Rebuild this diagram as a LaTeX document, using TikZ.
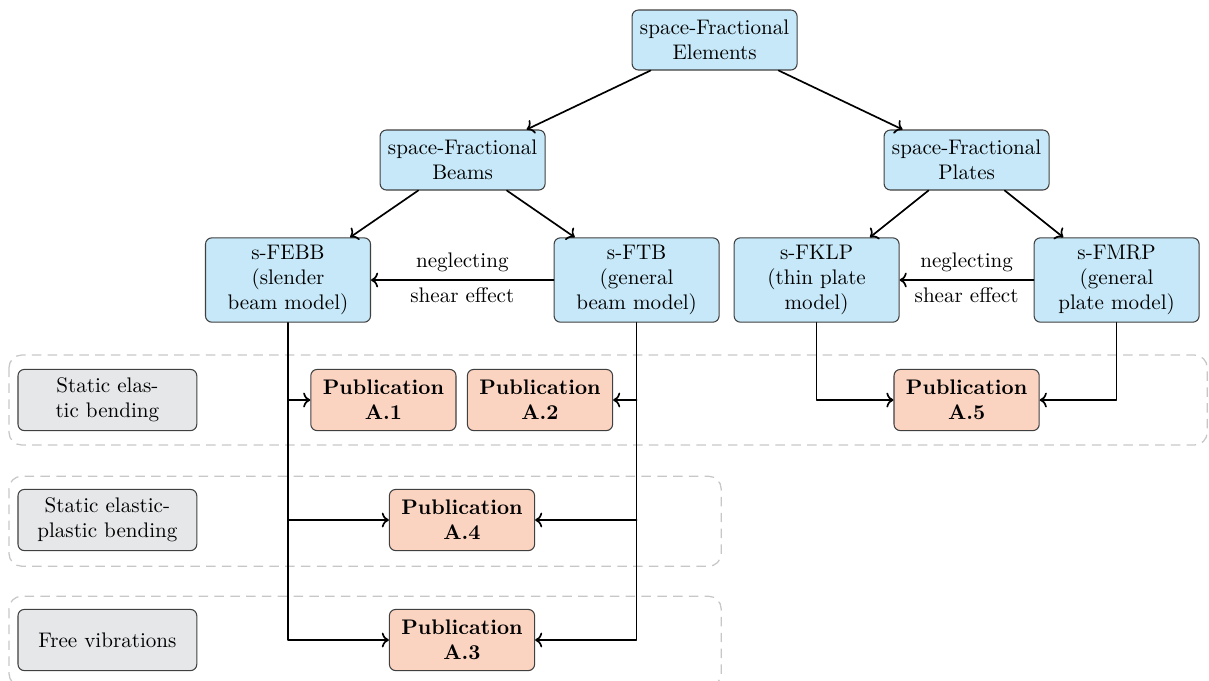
\documentclass[tikz,border=0pt]{standalone}
\usetikzlibrary{positioning}
\usetikzlibrary{arrows.meta}
\definecolor{fracblue}{RGB}{198,232,248}
\definecolor{pubred}{RGB}{251,212,193}
\definecolor{taskgray}{RGB}{230,231,233}
\tikzstyle{every node}=[font=\normalsize]
\tikzstyle{model}=[draw=black!75,fill=fracblue,rounded corners=3pt,align=center,minimum width=2.75cm,minimum height=1cm,line width=0.5pt]
\tikzstyle{pub}=[draw=black!75,fill=pubred,rounded corners=3pt,align=center,minimum width=2.42cm,minimum height=1.02cm,font=\bfseries,line width=0.5pt]
\tikzstyle{task}=[draw=black!75,fill=taskgray,rounded corners=3pt,align=center,minimum width=2.98cm,minimum height=1.02cm,line width=0.5pt]
\tikzstyle{rowframe}=[draw=black!22,dash pattern=on 4.5pt off 3pt,rounded corners=6pt,line width=0.6pt]
\tikzstyle{link}=[->,thick,line cap=round,line join=round]

\begin{document}
\begin{tikzpicture}
  \useasboundingbox (0,0.667) rectangle (20.15,-10.683);
  % groups of results
  \draw[rowframe] (0.15,-5.25) rectangle (20.12,-6.75);
  \draw[rowframe] (0.15,-7.27) rectangle (12.02,-8.77);
  \draw[rowframe] (0.15,-9.27) rectangle (12.02,-10.77);

  % tree of models
  \node[model] (elem) at (11.91,0) {space-Fractional\\Elements};
  \node[model] (beams) at (7.71,-2) {space-Fractional\\Beams};
  \node[model] (plates) at (16.11,-2) {space-Fractional\\Plates};
  \node[model] (febb) at (4.8,-4) {s-FEBB\\(slender\\beam model)};
  \node[model] (ftb) at (10.61,-4) {s-FTB\\(general\\beam model)};
  \node[model] (fklp) at (13.61,-4) {s-FKLP\\(thin plate\\model)};
  \node[model] (fmrp) at (18.61,-4) {s-FMRP\\(general\\plate model)};

  % problems and publications
  \node[task] (bend) at (1.79,-6) {Static elas-\\tic bending};
  \node[task] (plast) at (1.79,-8) {Static elastic-\\plastic bending};
  \node[task] (vib) at (1.79,-10) {Free vibrations};
  \node[pub] (a1) at (6.39,-6) {Publication\\A.1};
  \node[pub] (a2) at (9.0,-6) {Publication\\A.2};
  \node[pub] (a5) at (16.11,-6) {Publication\\A.5};
  \node[pub] (a4) at (7.7,-8) {Publication\\A.4};
  \node[pub] (a3) at (7.7,-10) {Publication\\A.3};

  \draw[link] (elem)--(beams);
  \draw[link] (elem)--(plates);
  \draw[link] (beams)--(febb);
  \draw[link] (beams)--(ftb);
  \draw[link] (plates)--(fklp);
  \draw[link] (plates)--(fmrp);
  \draw[link] (ftb)--node[above]{neglecting} node[below]{shear effect} (febb);
  \draw[link] (fmrp)--node[above]{neglecting} node[below]{shear effect} (fklp);

  \draw[link] (febb.south) |- (a3.west);
  \draw[link] (febb.south |- a1.west) -- (a1.west);
  \draw[link] (febb.south |- a4.west) -- (a4.west);
  \draw[link] (ftb.south) |- (a3.east);
  \draw[link] (ftb.south |- a2.east) -- (a2.east);
  \draw[link] (ftb.south |- a4.east) -- (a4.east);
  \draw[link] (fklp.south) |- (a5.west);
  \draw[link] (fmrp.south) |- (a5.east);
\end{tikzpicture}
\end{document}
